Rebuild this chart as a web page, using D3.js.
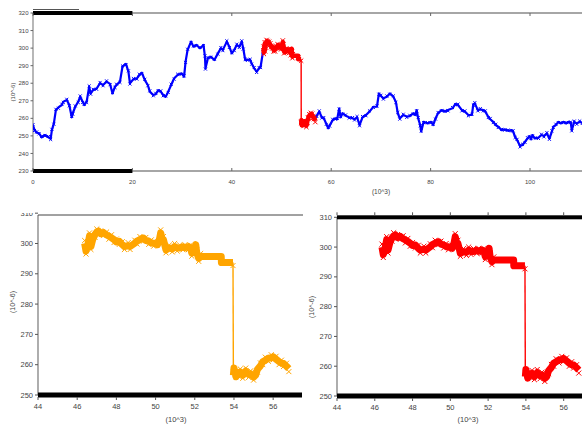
<!DOCTYPE html>
<html><head><meta charset="utf-8">
<script src="https://cdn.jsdelivr.net/npm/d3@7"></script>
<style>
body{margin:0;background:#fff}
svg{display:block}
text{font-family:"Liberation Sans Narrow","Liberation Sans",Arial,sans-serif;fill:#444}
</style>
</head><body><svg id="c" width="582" height="425"></svg>
<script>
// ---- data (x in 10^3, y in 10^-6) ----
const blueAX = [0,0.3,0.74,1.2,1.75,2.4,3.1,3.56,3.8,4.2,4.6,5.1,5.8,6.1,6.8,7.3,7.8,8.0,8.5,9.1,9.5,10.0,10.3,10.8,11.3,11.6,12.1,12.8,13.5,14.1,14.8,15.5,16.0,16.5,16.8,17.5,18.0,18.7,19.2,19.5,20.2,20.9,21.4,21.9,22.5,23.1,23.5,24.2,24.7,25.2,25.7,26.2,26.7,27.2,27.8,28.4,29.1,29.9,30.4,30.7,31.1,31.8,32.3,32.9,33.6,34.3,34.6,34.7,35.2,35.8,36.5,37.2,37.8,38.2,39.0,39.5,40.0,40.5,41.0,41.5,42.0,42.3,42.7,43.2,43.7,44.0,44.5,45.0,45.5,45.8,46.25];
const blueAY = [256,253.5,251.8,251.6,249.2,250.5,249.2,248.4,253.3,257.1,264.7,266.2,267.6,269.5,270.4,267.6,260.6,262.9,266.6,269.5,272.3,269.5,267.6,269.5,278.0,274.2,276.1,277.0,280.0,279.0,280.9,279.6,274.2,278.0,279.0,280.9,289.4,291.0,286.6,280.0,282.2,282.8,284.7,286.0,281.8,279.0,275.2,273.3,273.8,276.1,275.2,273.3,272.3,275.2,279.0,282.8,284.7,285.6,283.7,292.3,298.9,303.7,300.8,301.8,299.9,301.8,295.1,288.5,294.2,295.1,293.2,297.0,299.9,299.0,303.7,300.8,297.0,299.0,301.8,300.8,303.7,299.9,293.2,293.5,293.2,291.3,288.5,286.6,288.5,289.4,297.5];
const blueBX = [56.7,57.1,57.6,58.1,58.5,59.0,59.4,59.7,60.3,60.8,61.2,61.6,61.9,62.3,62.9,63.6,64.3,64.7,65.2,65.7,66.3,67.0,67.7,68.5,69.2,69.6,70.0,70.5,71.2,71.8,72.5,73.0,73.4,73.8,74.5,75.2,75.8,76.5,76.9,77.2,77.5,77.9,78.1,78.6,79.4,80.1,80.5,81.0,81.5,82.2,82.9,83.5,84.4,85.0,85.5,86.3,86.9,87.6,88.3,88.6,88.9,89.5,90.0,90.6,91.0,91.6,92.0,92.6,93.1,93.6,94.3,94.9,95.6,96.3,96.6,97.0,97.4,98.0,98.5,99.0,99.5,99.9,100.2,100.5,101.0,101.7,102.3,102.8,103.4,103.9,104.4,104.7,105.2,105.7,106.2,106.7,107.3,107.7,108.2,108.4,108.9,109.4,110.0,110.5];
const blueBY = [259.5,261.5,263.8,260.6,260.0,257.0,254.3,256.0,259.0,260.0,259.5,265.7,260.6,262.9,261.5,260.6,260.0,259.5,260.6,256.2,260.6,261.9,263.8,266.6,266.6,274.2,272.7,271.4,272.3,274.2,272.3,269.5,262.9,260.0,261.9,261.0,261.3,262.9,261.9,264.7,260.0,256.2,252.4,258.0,257.1,258.0,256.2,260.0,262.9,264.7,263.8,264.7,265.7,268.2,267.6,264.7,263.8,261.9,261.9,268.0,268.5,264.7,265.1,264.7,263.8,260.9,259.5,258.0,256.2,255.2,253.3,253.7,252.9,253.3,252.4,249.5,247.6,244.2,244.8,246.7,248.5,249.9,248.0,250.5,248.5,249.0,250.5,249.9,251.4,248.5,252.4,255.2,256.2,258.0,257.1,258.0,257.1,258.0,257.5,253.3,258.0,257.1,258.0,257.5];
const redX = [46.38,46.45,46.5,46.56,46.63,46.7,46.8,46.91,47.0,47.09,47.2,47.35,47.5,47.62,47.75,47.88,48.0,48.15,48.3,48.41,48.6,48.7,48.94,49.05,49.2,49.38,49.5,49.65,49.78,49.9,50.1,50.2,50.26,50.33,50.4,50.53,50.7,50.85,50.97,51.1,51.23,51.4,51.5,51.68,51.78,51.85,51.95,52.05,52.1,52.2,52.3,53.35,53.36,53.95,53.97,54.0,54.1,54.2,54.32,54.45,54.6,54.75,54.85,55.0,55.1,55.2,55.35,55.47,55.6,55.75,55.9,56.0,56.15,56.3,56.42,56.53,56.68,56.8];
const redY = [300.0,297.5,299.0,300.1,302.5,299.0,301.5,303.0,303.8,304.1,303.2,303.6,302.8,302.4,301.9,301.3,300.5,300.7,299.6,299.0,299.3,299.0,300.1,300.8,301.3,301.8,301.0,300.7,300.2,300.1,299.6,301.5,303.5,301.5,301.3,297.9,298.5,298.2,299.0,298.5,298.5,298.9,298.6,299.0,298.5,296.8,297.9,299.6,297.0,295.1,295.7,295.7,293.7,293.7,256.5,258.9,256.0,257.3,257.6,256.5,257.9,256.8,257.0,255.9,256.5,258.5,259.6,261.0,261.5,262.1,262.3,262.6,261.8,261.0,260.5,260.4,259.5,258.7];
const topXTicks = [0,20,40,60,80,100];
const topYTicks = [230,240,250,260,270,280,290,300,310,320];
const zoomXTicks = [44,46,48,50,52,54,56];
const zoomYTicks = [250,260,270,280,290,300,310];
const xUnit = "(10^3)";
const yUnit = "(10^-6)";
const colBlue = "#0000ff", colRed = "#ff0000", colOrange = "#ffa500";

const svg = d3.select("#c");
const defs = svg.append("defs");

function drawSeries(g, xs, ys, x, y, color, thick, markSize, markOff) {
  const pts = xs.map((v, i) => [x(v), y(ys[i])]);
  const runs = [[pts[0]]], jumps = [];
  for (let i = 1; i < pts.length; i++) {
    if (Math.abs(ys[i] - ys[i - 1]) > 15) { jumps.push([pts[i - 1], pts[i]]); runs.push([pts[i]]); }
    else runs[runs.length - 1].push(pts[i]);
  }
  const line = d3.line();
  runs.forEach(r => g.append("path").attr("d", line(r)).attr("fill", "none").attr("stroke", color)
    .attr("stroke-width", thick).attr("stroke-linejoin", "round").attr("stroke-linecap", "butt"));
  jumps.forEach(j => g.append("path").attr("d", line(j)).attr("fill", "none").attr("stroke", color).attr("stroke-width", 1.4));
  if (markSize > 0) {
    const sym = d3.symbol().type(d3.symbolTimes).size(markSize);
    g.selectAll(null).data(pts).enter().append("path").attr("d", sym)
      .attr("transform", (d, i) => `translate(${d[0]},${d[1] + (i % 2 ? markOff : -markOff)})`)
      .attr("fill", "none").attr("stroke", color).attr("stroke-width", 1);
  }
}

// ================= TOP CHART =================
{
  const x = d3.scaleLinear().domain([0, 110.46]).range([33, 582]);
  const y = d3.scaleLinear().domain([230, 320]).range([171, 13]);
  const g = svg.append("g");
  defs.append("clipPath").attr("id", "clipTop").append("rect").attr("x", 33).attr("y", 0).attr("width", 549).attr("height", 180);
  g.append("line").attr("x1", 33).attr("x2", 582).attr("y1", y(320)).attr("y2", y(320)).attr("stroke", "#888").attr("stroke-width", 1.5);
  g.append("line").attr("x1", 33).attr("x2", 582).attr("y1", y(230)).attr("y2", y(230)).attr("stroke", "#888").attr("stroke-width", 1.5);
  g.append("line").attr("x1", 33).attr("x2", 33).attr("y1", y(320)).attr("y2", y(230)).attr("stroke", "#888").attr("stroke-width", 1.2);
  g.append("rect").attr("x", x(0)).attr("y", y(320) - 2).attr("width", x(20) - x(0)).attr("height", 4).attr("fill", "#000");
  g.append("rect").attr("x", x(0)).attr("y", y(230) - 2).attr("width", x(20) - x(0)).attr("height", 4).attr("fill", "#000");
  g.append("line").attr("x1", 33).attr("x2", 79).attr("y1", 9.5).attr("y2", 9.5).attr("stroke", "#555").attr("stroke-width", 1);
  topXTicks.forEach(t => {
    g.append("line").attr("x1", x(t)).attr("x2", x(t)).attr("y1", y(320)).attr("y2", y(320) + 3).attr("stroke", "#666");
    g.append("line").attr("x1", x(t)).attr("x2", x(t)).attr("y1", y(230)).attr("y2", y(230) - 3).attr("stroke", "#666");
  });
  g.selectAll(null).data(topXTicks).enter().append("text").attr("x", d => x(d)).attr("y", 184)
    .attr("text-anchor", "middle").attr("font-size", 6).text(d => d);
  topYTicks.forEach(t => g.append("line").attr("x1", 30.5).attr("x2", 33).attr("y1", y(t)).attr("y2", y(t)).attr("stroke", "#666"));
  g.selectAll(null).data(topYTicks).enter().append("text").attr("x", 28.5).attr("y", d => y(d)).attr("dy", "0.35em")
    .attr("text-anchor", "end").attr("font-size", 6).text(d => d);
  g.append("text").attr("x", 381).attr("y", 194).attr("text-anchor", "middle").attr("font-size", 6.5).text(xUnit);
  g.append("text").attr("transform", "translate(15,92) rotate(-90)").attr("text-anchor", "middle").attr("font-size", 6).text(yUnit);
  const pg = g.append("g").attr("clip-path", "url(#clipTop)");
  drawSeries(pg, blueAX, blueAY, x, y, colBlue, 2.2, 7, 0.8);
  drawSeries(pg, blueBX, blueBY, x, y, colBlue, 2.2, 7, 0.8);
  drawSeries(pg, redX, redY, x, y, colRed, 4.5, 14, 1.5);
}

// ================= BOTTOM CHARTS =================
function zoomChart(opts) {
  const x = d3.scaleLinear().domain([44, opts.xMax]).range([opts.left, opts.right]);
  const y = d3.scaleLinear().domain([250, opts.yTop]).range([opts.bottom, opts.top]);
  const g = svg.append("g");
  const cid = "clip" + opts.id;
  defs.append("clipPath").attr("id", cid).append("rect").attr("x", 0).attr("y", 213).attr("width", 582).attr("height", 212);
  const lg = g.append("g").attr("clip-path", `url(#${cid})`);
  g.append("line").attr("x1", opts.left).attr("x2", opts.left).attr("y1", opts.top).attr("y2", opts.bottom).attr("stroke", "#777").attr("stroke-width", 1.2);
  if (opts.topThick) {
    g.append("rect").attr("x", opts.left).attr("y", opts.top - 2).attr("width", opts.barEnd - opts.left).attr("height", 4).attr("fill", "#000");
  } else {
    g.append("line").attr("x1", opts.left).attr("x2", opts.barEnd + 1).attr("y1", opts.top).attr("y2", opts.top).attr("stroke", "#444").attr("stroke-width", 1);
  }
  g.append("rect").attr("x", opts.left).attr("y", opts.bottom - 2.5).attr("width", opts.barEnd - opts.left).attr("height", 5).attr("fill", "#000");
  zoomXTicks.forEach(t => {
    g.append("line").attr("x1", x(t)).attr("x2", x(t)).attr("y1", opts.bottom + 2).attr("y2", opts.bottom + 5).attr("stroke", "#555");
    if (opts.topThick) g.append("line").attr("x1", x(t)).attr("x2", x(t)).attr("y1", opts.top - 5).attr("y2", opts.top - 2).attr("stroke", "#555");
  });
  zoomYTicks.forEach(t => g.append("line").attr("x1", opts.left - 3).attr("x2", opts.left).attr("y1", y(t)).attr("y2", y(t)).attr("stroke", "#555"));
  g.selectAll(null).data(zoomXTicks).enter().append("text").attr("x", d => x(d)).attr("y", opts.bottom + 14)
    .attr("text-anchor", "middle").attr("font-size", 7.5).text(d => d);
  lg.selectAll(null).data(zoomYTicks).enter().append("text").attr("x", opts.left - 5).attr("y", d => y(d)).attr("dy", "0.35em")
    .attr("text-anchor", "end").attr("font-size", 7.5).text(d => d);
  g.append("text").attr("x", opts.xLabX).attr("y", 422).attr("text-anchor", "middle").attr("font-size", 7.5).text(xUnit);
  g.append("text").attr("transform", `translate(${opts.yLabX},${opts.yLabY}) rotate(-90)`).attr("text-anchor", "middle").attr("font-size", 7).text(yUnit);
  drawSeries(g, redX, redY, x, y, opts.color, 7, 18, 3);
}

zoomChart({id: "L", left: 38, right: 301, xMax: 57.42, top: 215, bottom: 395, yTop: 309.4, barEnd: 302,
  topThick: false, color: colOrange, xLabX: 176, yLabX: 15, yLabY: 302});
zoomChart({id: "R", left: 337, right: 582, xMax: 44 + 245 / 18.89, top: 217.3, bottom: 396, yTop: 310, barEnd: 582,
  topThick: true, color: colRed, xLabX: 468, yLabX: 314, yLabY: 307});
</script>
</body></html>
